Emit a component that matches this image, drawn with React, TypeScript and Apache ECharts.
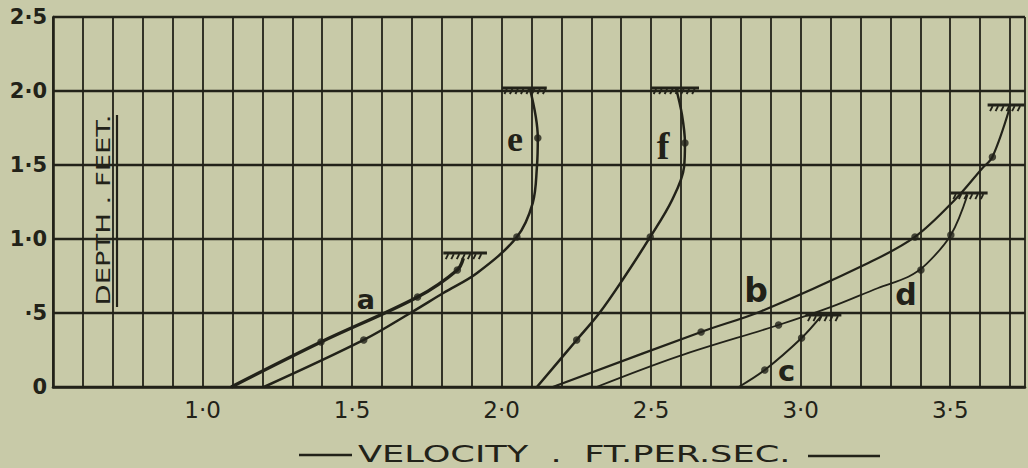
import { useEffect, useRef } from "react";
import * as echarts from "echarts";

// Axis ticks
const xTickValues = [1.0, 1.5, 2.0, 2.5, 3.0, 3.5];
const xTickLabels = ["1·0", "1·5", "2·0", "2·5", "3·0", "3·5"];
const yTickValues = [0, 0.5, 1.0, 1.5, 2.0, 2.5];
const yTickLabels = ["0", "·5", "1·0", "1·5", "2·0", "2·5"];

// Velocity curves: [velocity ft/s, depth ft]
const curveA = [[1.096, 0], [1.396, 0.304], [1.719, 0.608], [1.852, 0.791], [1.872, 0.87]];
const curveE = [[1.205, 0], [1.539, 0.318], [1.695, 0.5], [1.805, 0.635], [1.918, 0.77], [2.051, 1.014], [2.104, 1.243], [2.118, 1.486], [2.121, 1.682], [2.094, 2.02]];
const curveF = [[2.118, 0], [2.251, 0.318], [2.327, 0.5], [2.404, 0.723], [2.497, 1.014], [2.57, 1.264], [2.61, 1.486], [2.613, 1.649], [2.603, 1.84], [2.583, 2.02]];
const curveB = [[2.171, 0], [2.667, 0.372], [2.87, 0.514], [3.226, 0.838], [3.382, 1.014], [3.515, 1.264], [3.608, 1.48], [3.641, 1.554], [3.698, 1.88]];
const curveD = [[2.317, 0], [2.593, 0.209], [2.926, 0.419], [3.102, 0.541], [3.259, 0.669], [3.36, 0.745], [3.42, 0.83], [3.502, 1.027], [3.558, 1.3]];
const curveC = [[2.793, 0], [2.88, 0.115], [3.003, 0.331], [3.069, 0.48]];

// Observed points
const markersA = [[1.396, 0.304], [1.719, 0.608], [1.852, 0.791]];
const markersE = [[1.539, 0.318], [2.051, 1.014], [2.121, 1.682]];
const markersF = [[2.251, 0.318], [2.497, 1.014], [2.613, 1.649]];
const markersB = [[2.667, 0.372], [3.382, 1.014], [3.641, 1.554]];
const markersD = [[2.926, 0.419], [3.402, 0.79], [3.502, 1.027]];
const markersC = [[2.88, 0.115], [3.003, 0.331]];

// Water-surface symbols: [velocity from, velocity to, depth]
const surfaces = [[1.805, 1.951, 0.905], [2.001, 2.151, 2.02], [2.5, 2.66, 2.02], [3.625, 3.748, 1.905], [3.502, 3.625, 1.31], [3.016, 3.136, 0.486]];

// Curve letters and where they sit
const curveNames = ["a", "e", "f", "b", "d", "c"];
const curveNameAt = [[1.546, 0.59], [2.045, 1.675], [2.54, 1.628], [2.851, 0.649], [3.352, 0.622], [2.953, 0.11]];

const INK = "#222219";
const PAPER = "#c8caa8";

export default function App() {
  const ref = useRef<HTMLDivElement>(null);
  useEffect(() => {
    if (!ref.current) return;
    document.body.style.margin = "0";
    document.body.style.background = PAPER;
    const chart = echarts.init(ref.current, null, { renderer: "svg" });
    const lineSeries = (data: number[][], width: number) => ({
      type: "line",
      data,
      smooth: 0.35,
      showSymbol: false,
      symbol: "none",
      clip: false,
      lineStyle: { color: INK, width },
      z: 3,
    });
    const labelSizes: Record<string, { size: number; family: string; weight: string }> = {
      a: { size: 27, family: "DejaVu Sans", weight: "bold" },
      b: { size: 33, family: "DejaVu Sans", weight: "bold" },
      c: { size: 29, family: "DejaVu Sans", weight: "bold" },
      d: { size: 30, family: "DejaVu Sans", weight: "bold" },
      e: { size: 36, family: "Liberation Serif", weight: "bold" },
      f: { size: 38, family: "Liberation Serif", weight: "bold" },
    };
    const option: any = {
      animation: false,
      backgroundColor: PAPER,
      grid: { left: 53, right: 0, top: 17, bottom: 81 },
      xAxis: {
        type: "value",
        min: 0.5,
        max: 3.75,
        interval: 0.1,
        axisLine: { show: true, lineStyle: { color: INK, width: 2.6 } },
        axisTick: { show: false },
        splitLine: { show: true, lineStyle: { color: INK, width: 1.8 } },
        axisLabel: {
          margin: 11,
          color: INK,
          fontSize: 23,
          fontFamily: "DejaVu Sans",
          formatter: (v: number) => {
            const i = xTickValues.findIndex((t) => Math.abs(t - v) < 1e-6);
            return i >= 0 ? xTickLabels[i] : "";
          },
        },
      },
      yAxis: {
        type: "value",
        min: 0,
        max: 2.5,
        interval: 0.5,
        axisLine: { show: true, lineStyle: { color: INK, width: 2.6 } },
        axisTick: { show: false },
        splitLine: { show: true, lineStyle: { color: INK, width: 2.4 } },
        axisLabel: {
          margin: 6,
          color: INK,
          fontSize: 21,
          fontWeight: "bold",
          fontFamily: "DejaVu Sans",
          formatter: (v: number) => {
            const i = yTickValues.findIndex((t) => Math.abs(t - v) < 1e-6);
            return i >= 0 ? yTickLabels[i] : "";
          },
        },
      },
      series: [
        lineSeries(curveA, 3.4),
        lineSeries(curveE, 2.5),
        lineSeries(curveF, 2.5),
        lineSeries(curveB, 2.2),
        lineSeries(curveD, 1.8),
        lineSeries(curveC, 2.0),
        {
          type: "scatter",
          data: [...markersA, ...markersE, ...markersF, ...markersB, ...markersD, ...markersC],
          symbol: "circle",
          symbolSize: 7.5,
          itemStyle: { color: INK },
          z: 4,
        },
        {
          type: "custom",
          data: surfaces,
          encode: { x: [0, 1], y: 2 },
          z: 5,
          clip: false,
          renderItem: (_params: any, api: any) => {
            const p1 = api.coord([api.value(0), api.value(2)]);
            const p2 = api.coord([api.value(1), api.value(2)]);
            const children: any[] = [
              {
                type: "line",
                shape: { x1: p1[0], y1: p1[1], x2: p2[0], y2: p2[1] },
                style: { stroke: INK, lineWidth: 3 },
              },
            ];
            for (let x = p1[0] + 5; x <= p2[0] - 1; x += 5.5) {
              children.push({
                type: "line",
                shape: { x1: x, y1: p1[1] + 1, x2: x - 2.5, y2: p1[1] + 6 },
                style: { stroke: INK, lineWidth: 1.9 },
              });
            }
            return { type: "group", children };
          },
        },
        {
          type: "scatter",
          symbolSize: 1,
          itemStyle: { color: PAPER, opacity: 0 },
          z: 6,
          data: curveNames.map((n, i) => ({
            name: n,
            value: curveNameAt[i],
            label: {
              show: true,
              position: "inside",
              formatter: "{b}",
              color: INK,
              opacity: 1,
              textBorderWidth: 0,
              fontSize: labelSizes[n].size,
              fontWeight: labelSizes[n].weight,
              fontFamily: labelSizes[n].family,
            },
          })),
        },
      ],
      graphic: [
        {
          type: "line",
          shape: { x1: 299, y1: 455, x2: 352, y2: 455 },
          style: { stroke: INK, lineWidth: 2.6 },
        },
        {
          type: "line",
          shape: { x1: 808, y1: 456, x2: 880, y2: 456 },
          style: { stroke: INK, lineWidth: 2.6 },
        },
        {
          type: "text",
          x: 358,
          y: 454,
          scaleX: 1.53,
          style: {
            text: "VELOCITY  .  FT.PER.SEC.",
            fill: INK,
            font: "23px 'DejaVu Sans'",
            align: "left",
            verticalAlign: "middle",
          },
        },
        {
          type: "text",
          x: 103,
          y: 210,
          rotation: Math.PI / 2,
          scaleX: 1.37,
          style: {
            text: "DEPTH . FEET.",
            fill: INK,
            font: "20px 'DejaVu Sans'",
            align: "center",
            verticalAlign: "middle",
          },
        },
        {
          type: "line",
          shape: { x1: 117, y1: 115, x2: 117, y2: 307 },
          style: { stroke: INK, lineWidth: 2.2 },
        },
      ],
    };
    chart.setOption(option);
    return () => chart.dispose();
  }, []);
  return (
    <div
      ref={ref}
      style={{ position: "fixed", left: 0, top: 0, width: 1028, height: 468, background: PAPER }}
    />
  );
}
